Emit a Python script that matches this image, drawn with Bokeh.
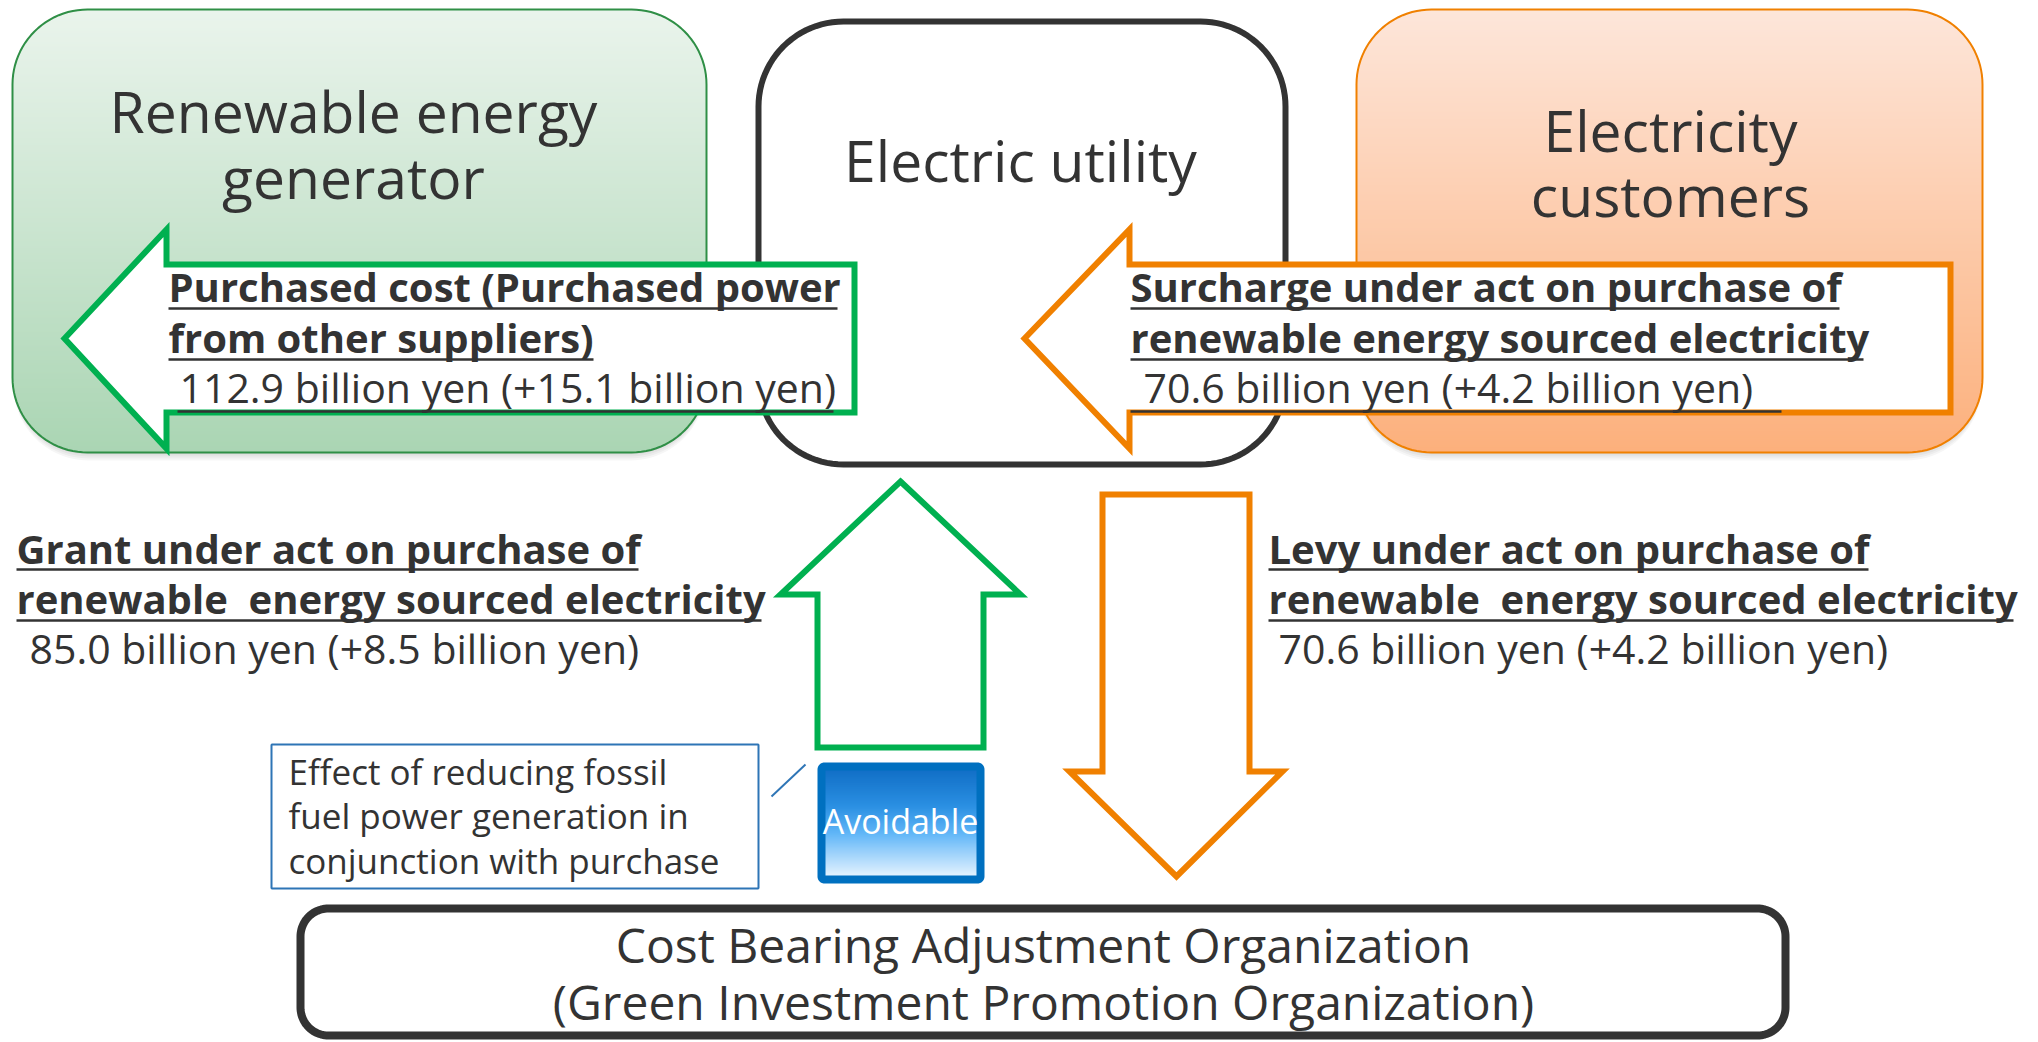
import math
from bokeh.plotting import figure
from bokeh.models import Range1d
from bokeh.core.properties import value
from bokeh.embed import file_html
from bokeh.resources import INLINE

# ---------------- data (texts and amounts) ----------------
generator_title = ["Renewable energy", "generator"]
utility_title = ["Electric utility"]
customers_title = ["Electricity", "customers"]
org_title = ["Cost Bearing Adjustment Organization",
             "(Green Investment Promotion Organization)"]

purchased_label = ["Purchased cost (Purchased power", "from other suppliers)"]
surcharge_label = ["Surcharge under act on purchase of",
                   "renewable energy sourced electricity"]
grant_label = ["Grant under act on purchase of",
               "renewable\u00a0 energy sourced electricity"]
levy_label = ["Levy under act on purchase of",
              "renewable\u00a0 energy sourced electricity"]

flow_names = ["purchased", "surcharge", "grant", "levy"]
amounts_billion_yen = [112.9, 70.6, 85.0, 70.6]
changes_billion_yen = [15.1, 4.2, 8.5, 4.2]

avoidable_label = "Avoidable"
callout_lines = ["Effect of reducing fossil",
                 "fuel power generation in",
                 "conjunction with purchase"]

amount_text = {n: f"{a:.1f} billion yen (+{c:.1f} billion yen)"
               for n, a, c in zip(flow_names, amounts_billion_yen, changes_billion_yen)}

# ---------------- helpers ----------------
FONT = value("Open Sans")
DARK = "#333333"
GREEN = "#00b050"
ORANGE = "#f08000"
BASE_K = 0.40  # empirical baseline correction (fraction of font size)


def rr_outline(x0, y0, x1, y1, r, n=24):
    pts = []
    corners = [((x1 - r, y0 + r), -90, 0), ((x1 - r, y1 - r), 0, 90),
               ((x0 + r, y1 - r), 90, 180), ((x0 + r, y0 + r), 180, 270)]
    for (cx, cy), a0, a1 in corners:
        for k in range(n + 1):
            a = math.radians(a0 + (a1 - a0) * k / n)
            pts.append((cx + r * math.cos(a), cy + r * math.sin(a)))
    xs, ys = zip(*pts)
    return list(xs), list(ys)


def rr_span(y, x0, y0, x1, y1, r):
    if y < y0 + r:
        dy = (y0 + r) - y
    elif y > y1 - r:
        dy = y - (y1 - r)
    else:
        dy = 0.0
    dy = min(dy, r)
    dx = r - math.sqrt(max(r * r - dy * dy, 0.0))
    return x0 + dx, x1 - dx


def hex2rgb(h):
    h = h.lstrip("#")
    return tuple(int(h[i:i + 2], 16) for i in (0, 2, 4))


def grad_color(stops, t):
    for (t0, c0), (t1, c1) in zip(stops[:-1], stops[1:]):
        if t <= t1:
            f = 0 if t1 == t0 else (t - t0) / (t1 - t0)
            a, b = hex2rgb(c0), hex2rgb(c1)
            return "#%02x%02x%02x" % tuple(int(round(a[i] + (b[i] - a[i]) * f)) for i in range(3))
    return stops[-1][1]


def gradient_fill(p, x0, y0, x1, y1, r, stops, step=2.0):
    xs, ys, cols = [], [], []
    y = y0
    while y < y1:
        ya, yb = y, min(y + step, y1)
        yb2 = min(yb + 0.8, y1)
        l0, r0 = rr_span(ya, x0, y0, x1, y1, r)
        l1, r1 = rr_span(yb2, x0, y0, x1, y1, r)
        xs.append([l0, r0, r1, l1])
        ys.append([ya, ya, yb2, yb2])
        cols.append(grad_color(stops, ((ya + yb) / 2 - y0) / (y1 - y0)))
        y += step
    p.patches(xs=xs, ys=ys, fill_color=cols, line_color=None)


def shadow(p, x0, y0, x1, y1, r):
    for off in (2, 4, 6, 8):
        xs, ys = rr_outline(x0 + 1, y0 + off, x1 - 1, y1 + off, r)
        p.patch(xs, ys, fill_color="#000000", fill_alpha=0.035, line_color=None)


def texts(p, x, ys, lines, size, bold=False, align="left", color=DARK):
    p.text(x=[x] * len(lines), y=[y - BASE_K * size for y in ys], text=lines,
           text_font=FONT, text_font_size=value(f"{size}px"),
           text_font_style="bold" if bold else "normal",
           text_color=color, text_align=align, text_baseline="alphabetic")


def underline(p, x0, x1, y, w=2.5):
    p.segment(x0=[x0], y0=[y], x1=[x1], y1=[y], line_color=DARK, line_width=w)


# ---------------- figure ----------------
W, H = 2038, 1042
p = figure(width=W, height=H, x_range=Range1d(0, W), y_range=Range1d(H, 0),
           output_backend="svg", toolbar_location=None, min_border=0,
           x_axis_type=None, y_axis_type=None)
p.grid.visible = False
p.outline_line_color = None
p.background_fill_color = "white"
p.border_fill_color = "white"

T, B, V, C, O = 57, 40, 41, 35, 48  # font sizes: titles, bold labels, values, callout, org

# --- Renewable energy generator box (green gradient) ---
gb = (12, 9, 706, 452, 75)
shadow(p, *gb)
gradient_fill(p, *gb, [(0, "#eaf4ec"), (1, "#aad5b3")])
xs, ys = rr_outline(*gb)
p.patch(xs, ys, fill_color=None, line_color="#2f8f46", line_width=2)
texts(p, 353, [133, 199], generator_title, T, align="center")

# --- Electricity customers box (orange gradient) ---
ob = (1356, 9, 1982, 452, 75)
shadow(p, *ob)
gradient_fill(p, *ob, [(0, "#fde6da"), (1, "#fcb07c")])
xs, ys = rr_outline(*ob)
p.patch(xs, ys, fill_color=None, line_color=ORANGE, line_width=2)
texts(p, 1670, [152, 217], customers_title, T, align="center")

# --- Electric utility box ---
xs, ys = rr_outline(758, 21, 1285, 464, 85)
p.patch(xs, ys, fill_color="white", line_color=DARK, line_width=6)
texts(p, 1020, [182], utility_title, T, align="center")

# --- Left arrow (green): utility -> generator ---
p.patch([64, 166, 166, 854, 854, 166, 166], [338, 229, 264, 264, 412, 412, 448],
        fill_color="white", line_color=GREEN, line_width=6, line_join="miter")
texts(p, 168, [302, 353], purchased_label, B, bold=True)
underline(p, 168, 837, 308)
underline(p, 168, 593, 359)
texts(p, 179, [403], [amount_text["purchased"]], V)
underline(p, 177, 833, 411)

# --- Left arrow (orange): customers -> utility ---
p.patch([1024, 1129, 1129, 1950, 1950, 1129, 1129], [338, 229, 264, 264, 412, 412, 448],
        fill_color="white", line_color=ORANGE, line_width=6, line_join="miter")
texts(p, 1130, [302, 353], surcharge_label, B, bold=True)
underline(p, 1130, 1839, 308)
underline(p, 1130, 1863, 359)
texts(p, 1143, [403], [amount_text["surcharge"]], V)
underline(p, 1130, 1781, 411)

# --- Up arrow (green): organization -> utility ---
p.patch([900, 1020, 983, 983, 817, 817, 780], [481, 594, 594, 747, 747, 594, 594],
        fill_color="white", line_color=GREEN, line_width=6, line_join="miter")
texts(p, 16, [564, 614], grant_label, B, bold=True)
underline(p, 16, 638, 569)
underline(p, 16, 761, 620)
texts(p, 29, [664], [amount_text["grant"]], V)

# --- Down arrow (orange): utility -> organization ---
p.patch([1102, 1249, 1249, 1282, 1176, 1069, 1102], [494, 494, 771, 771, 876, 771, 771],
        fill_color="white", line_color=ORANGE, line_width=6, line_join="miter")
texts(p, 1268, [564, 614], levy_label, B, bold=True)
underline(p, 1268, 1868, 569)
underline(p, 1268, 2013, 620)
texts(p, 1278, [664], [amount_text["levy"]], V)

# --- Avoidable box (blue gradient) ---
gradient_fill(p, 821, 766, 980, 879, 2,
              [(0, "#0f6cc4"), (0.35, "#2a8fe2"), (0.6, "#63b7f8"), (1, "#eef7ff")])
xs, ys = rr_outline(821, 766, 980, 879, 3)
p.patch(xs, ys, fill_color=None, line_color="#0070c0", line_width=8)
texts(p, 900, [834], [avoidable_label], 34, align="center", color="white")

# --- Callout ---
xs, ys = rr_outline(271, 744, 758, 888, 0.5, n=1)
p.patch(xs, ys, fill_color="white", line_color="#2e75b6", line_width=2)
texts(p, 288, [785, 829, 874], callout_lines, C)
p.segment(x0=[771], y0=[796], x1=[805], y1=[764], line_color="#2e75b6", line_width=2)

# --- Cost Bearing Adjustment Organization ---
xs, ys = rr_outline(300, 908, 1785, 1035, 28)
p.patch(xs, ys, fill_color="white", line_color=DARK, line_width=8)
texts(p, 1043, [963, 1020], org_title, O, align="center")

open("out.html", "w").write(file_html(p, INLINE))
